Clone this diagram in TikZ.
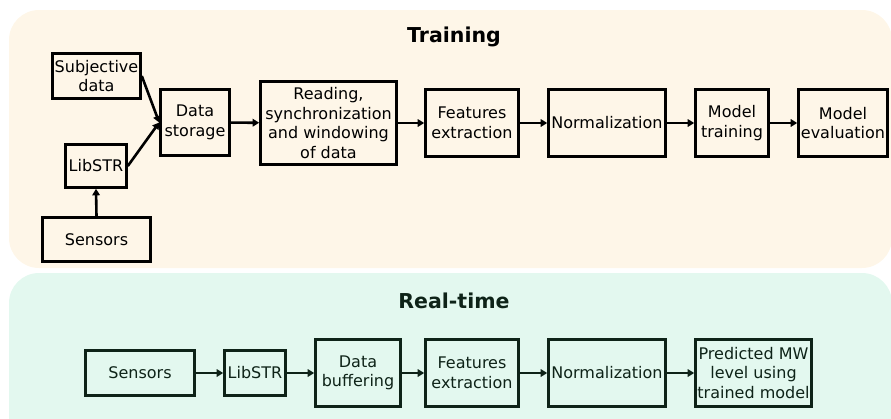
\documentclass[tikz,border=0pt]{standalone}
\usepackage{fontspec}
\setmainfont{DejaVu Sans}
\usetikzlibrary{arrows.meta}
\definecolor{trainbg}{HTML}{FEF6E8}
\definecolor{rtbg}{HTML}{E3F8EF}
\definecolor{rtink}{HTML}{0E2318}
\tikzset{
  blk/.style={draw, line width=2.6pt, align=center, inner sep=0pt,
    font=\fontsize{16}{19.5}\selectfont},
  rtblk/.style={blk, draw=rtink, text=rtink},
  conn/.style={line width=2.6pt, -{Triangle[length=6.5pt,width=7.5pt]}},
  rtconn/.style={conn, draw=rtink, color=rtink},
  paneltitle/.style={font=\fontsize{20.5}{24}\selectfont\bfseries, anchor=base},
  panel/.style={rounded corners=30pt, draw=none}
}
\begin{document}
\begin{tikzpicture}[x=1pt,y=-1pt]
\useasboundingbox (0,0) rectangle (891,418);
\begin{scope}
\clip (0,0) rectangle (891,418);
\fill[panel, fill=trainbg] (9,10) rectangle (892,268);
\fill[panel, fill=rtbg] (9,273) rectangle (892,450);
\end{scope}
\node[paneltitle] (ttl) at (454,42) {Training};
\node[paneltitle, text=rtink] (rttl) at (454,308) {Real-time};
% training
\node[blk, minimum width=88pt, minimum height=45pt] (subj) at (96.5,76) {Subjective\\data};
\node[blk, minimum width=61pt, minimum height=43pt] (lib) at (96,166) {LibSTR};
\node[blk, minimum width=108pt, minimum height=44pt] (sens) at (96.5,239.5) {Sensors};
\node[blk, minimum width=69pt, minimum height=66pt] (ds) at (195,122.5) {Data\\storage};
\node[blk, minimum width=136pt, minimum height=83pt] (read) at (328.5,123) {Reading,\\synchronization\\and windowing\\of data};
\node[blk, minimum width=93pt, minimum height=67pt] (fe) at (472,123) {Features\\extraction};
\node[blk, minimum width=117pt, minimum height=67pt] (norm) at (607,123) {Normalization};
\node[blk, minimum width=73pt, minimum height=67pt] (mt) at (732,123) {Model\\training};
\node[blk, minimum width=89pt, minimum height=67pt] (me) at (843,123) {Model\\evaluation};
\draw[conn] (subj.east) -- (ds.west);
\draw[conn] (lib.east) -- (ds.west);
\draw[conn] (sens.north) -- (lib.south);
\draw[conn] (ds) -- (read);
\draw[conn] (read) -- (fe);
\draw[conn] (fe) -- (norm);
\draw[conn] (norm) -- (mt);
\draw[conn] (mt) -- (me);
% real-time
\node[rtblk, minimum width=109pt, minimum height=45pt] (rs) at (140,373) {Sensors};
\node[rtblk, minimum width=61pt, minimum height=45pt] (rl) at (255,373) {LibSTR};
\node[rtblk, minimum width=85pt, minimum height=67pt] (db) at (358,373) {Data\\buffering};
\node[rtblk, minimum width=93pt, minimum height=67pt] (rf) at (472,373) {Features\\extraction};
\node[rtblk, minimum width=117pt, minimum height=67pt] (rn) at (607,373) {Normalization};
\node[rtblk, minimum width=116pt, minimum height=67pt] (rp) at (753.5,373) {Predicted MW\\level using\\trained model};
\draw[rtconn] (rs) -- (rl);
\draw[rtconn] (rl) -- (db);
\draw[rtconn] (db) -- (rf);
\draw[rtconn] (rf) -- (rn);
\draw[rtconn] (rn) -- (rp);
\end{tikzpicture}
\end{document}
